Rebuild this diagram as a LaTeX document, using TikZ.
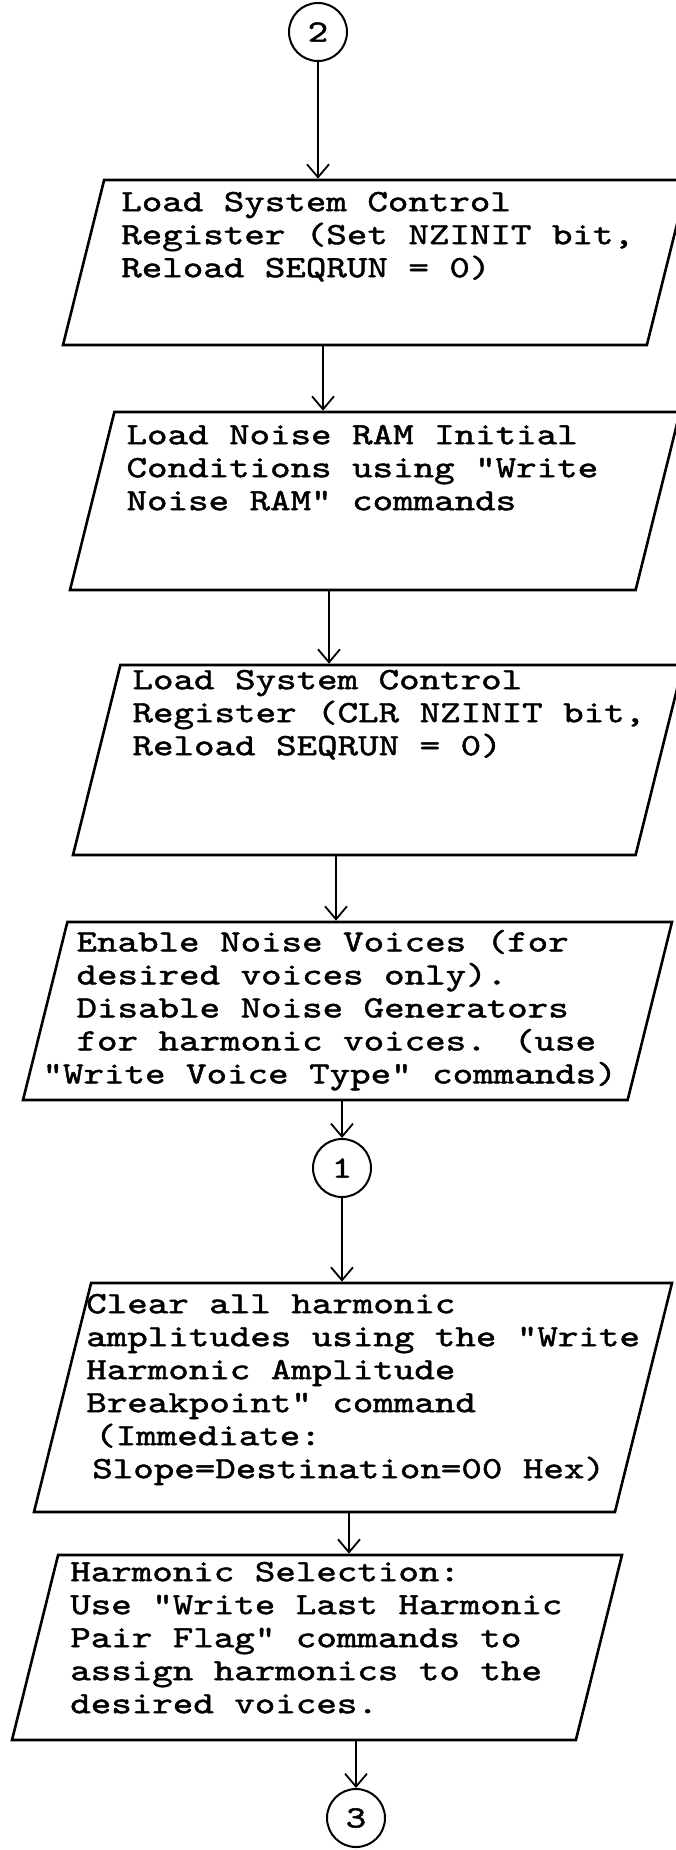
\documentclass[tikz,border=0pt]{standalone}
\usepackage{fontspec}
\usetikzlibrary{shapes.geometric,arrows.meta}
\newfontfamily\flowfont{lmmono10-regular.otf}[FakeStretch=1.26,FakeBold=1.5]
\tikzset{
  stepbox/.style={draw,line width=2.6pt,trapezium,trapezium left angle=76,trapezium right angle=104,trapezium stretches body,inner sep=0pt,text depth=0pt},
  steptext/.style={anchor=north west,align=left,inner sep=0pt,font=\flowfont\fontsize{31}{33}\selectfont},
  conn/.style={draw,circle,line width=2pt,minimum size=58pt,inner sep=0pt,font=\flowfont\fontsize{31}{33}\selectfont},
  arr/.style={line width=1.8pt,-{Straight Barb[length=13pt,width=22pt]}}
}
\begin{document}
\begin{tikzpicture}[x=1pt,y=-1pt]
\useasboundingbox (0,0) rectangle (675,1850);
\node[conn] (c2) at (318,32) {2};
\node[stepbox,minimum width=625pt,text height=165pt] (b1) at (375.5,262.5) {};
\node[steptext] (t1) at ([shift={(18,13)}]b1.top left corner) {Load System Control\\Register (Set NZINIT bit,\\Reload SEQRUN = 0)};
\node[stepbox,minimum width=610pt,text height=178pt] (b2) at (375,501) {};
\node[steptext] (t2) at ([shift={(13,14)}]b2.top left corner) {Load Noise RAM Initial\\Conditions using "Write\\Noise RAM" commands};
\node[stepbox,minimum width=610pt,text height=190pt] (b3) at (378,760) {};
\node[steptext] (t3) at ([shift={(13,6)}]b3.top left corner) {Load System Control\\Register (CLR NZINIT bit,\\Reload SEQRUN = 0)};
\node[stepbox,minimum width=649pt,text height=178pt] (b4) at (347.5,1011) {};
\node[steptext] (t4) at ([shift={(-24,9)}]b4.top left corner) {\hspace*{34pt}Enable Noise Voices (for\\\hspace*{34pt}desired voices only).\\\hspace*{34pt}Disable Noise Generators\\\hspace*{34pt}for harmonic voices. (use\\"Write Voice Type" commands)};
\node[conn] (c1) at (342,1168) {1};
\node[stepbox,minimum width=638pt,text height=229pt] (b5) at (353,1397.5) {};
\node[steptext] (t5) at ([shift={(-4,12)}]b5.top left corner) {Clear all harmonic\\amplitudes using the "Write\\Harmonic Amplitude\\Breakpoint" command\\\hspace*{9pt}(Immediate:\\\hspace*{6pt}Slope=Destination=00 Hex)};
\node[stepbox,minimum width=610pt,text height=185pt] (b6) at (317,1647.5) {};
\node[steptext] (t6) at ([shift={(13,8)}]b6.top left corner) {Harmonic Selection:\\Use "Write Last Harmonic\\Pair Flag" commands to\\assign harmonics to the\\desired voices.};
\node[conn] (c3) at (356,1818) {3};
\coordinate (k1) at (323,0);
\coordinate (k2) at (329,0);
\coordinate (k3) at (336,0);
\coordinate (k5) at (349,0);
\draw[arr] (c2) -- (c2 |- b1.north);
\draw[arr] (k1 |- b1.south) -- (k1 |- b2.north);
\draw[arr] (k2 |- b2.south) -- (k2 |- b3.north);
\draw[arr] (k3 |- b3.south) -- (k3 |- b4.north);
\draw[arr] (c1 |- b4.south) -- (c1);
\draw[arr] (c1) -- (c1 |- b5.north);
\draw[arr] (k5 |- b5.south) -- (k5 |- b6.north);
\draw[arr] (c3 |- b6.south) -- (c3);
\end{tikzpicture}
\end{document}
